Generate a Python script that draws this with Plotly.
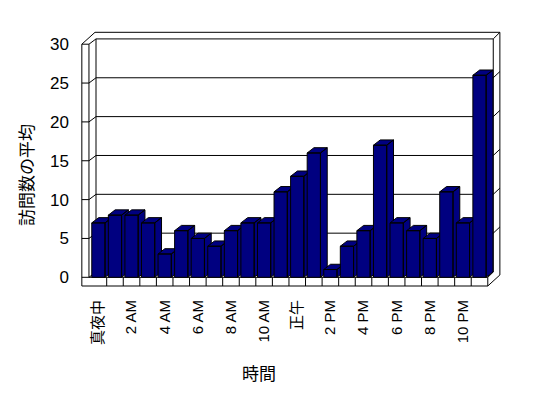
import plotly.graph_objects as go

# ---- data ----
hours = list(range(24))
visits = [7, 8, 8, 7, 3, 6, 5, 4, 6, 7, 7, 11, 13, 16, 1, 4, 6, 17, 7, 6, 5, 11, 7, 26]
x_tick_vals = [0, 2, 4, 6, 8, 10, 12, 14, 16, 18, 20, 22]
x_tick_text = ["真夜中", "2 AM", "4 AM", "6 AM", "8 AM", "10 AM", "正午",
               "2 PM", "4 PM", "6 PM", "8 PM", "10 PM"]
y_tick_vals = [0, 5, 10, 15, 20, 25, 30]
x_title = "時間"
y_title = "訪問数の平均"

# ---- style / geometry (category and value units) ----
NAVY = "#000080"
FONT = "Liberation Sans, Noto Sans CJK JP, sans-serif"
HALF = 0.40      # half width of a bar front face
DX = 0.41        # depth offset, x
DY = 0.68        # depth offset, y
YMAX = y_tick_vals[-1]
n = len(hours)

LEFT_OUT = -1.0
LEFT_FRONT = -0.57
BACK_LEFT = -0.145
BACK_RIGHT = n - 0.17
OUT_RIGHT = n + 0.23
FLOOR_RIGHT = n - 0.5
FLOOR_BOT = -1.12
OUT_TOP = YMAX + 1.53

fig = go.Figure()

def seg_trace(xs, ys):
    fig.add_trace(go.Scatter(x=xs, y=ys, mode="lines",
                             line=dict(color="black", width=1),
                             hoverinfo="skip", showlegend=False))

# frame lines
xs, ys = [], []
def seg(x0, y0, x1, y1):
    xs.extend([x0, x1, None]); ys.extend([y0, y1, None])

seg(LEFT_OUT, FLOOR_BOT, LEFT_OUT, YMAX)
seg(LEFT_OUT, YMAX, LEFT_FRONT, YMAX)
seg(LEFT_FRONT, 0, LEFT_FRONT, YMAX)
seg(LEFT_OUT, YMAX, BACK_LEFT - 0.06, OUT_TOP)
seg(BACK_LEFT - 0.06, OUT_TOP, OUT_RIGHT, OUT_TOP)
seg(LEFT_FRONT, YMAX, BACK_LEFT, YMAX + DY)
seg(BACK_LEFT, YMAX + DY, BACK_RIGHT, YMAX + DY)
seg(BACK_LEFT, DY, BACK_LEFT, YMAX + DY)
seg(BACK_RIGHT, DY, BACK_RIGHT, YMAX + DY)
seg(OUT_RIGHT, 0.3, OUT_RIGHT, OUT_TOP)
seg(BACK_RIGHT, YMAX + DY, OUT_RIGHT, OUT_TOP)
seg(LEFT_FRONT, 0, FLOOR_RIGHT, 0)
seg(LEFT_OUT, FLOOR_BOT, FLOOR_RIGHT, FLOOR_BOT)
seg(FLOOR_RIGHT, 0, FLOOR_RIGHT, FLOOR_BOT)
seg(FLOOR_RIGHT, 0, BACK_RIGHT, DY)
seg(FLOOR_RIGHT, FLOOR_BOT, OUT_RIGHT, 0.3)
for v in y_tick_vals[:-1]:
    seg(LEFT_OUT, v, LEFT_FRONT, v)
    seg(LEFT_FRONT, v, BACK_LEFT, v + DY)
    seg(BACK_LEFT, v + DY, BACK_RIGHT, v + DY)
    if v > 0:
        seg(BACK_RIGHT, v + DY, OUT_RIGHT, v + DY + 0.8)
for h in hours[:-1]:
    seg(h + 0.5, 0, h + 0.5, FLOOR_BOT)
seg_trace(xs, ys)

# bars (front, top, side faces) drawn left to right
for h, v in zip(hours, visits):
    l, r = h - HALF, h + HALF
    bx = [l, r, r, l, l, None,
          l, r, r + DX, l + DX, l, None,
          r, r + DX, r + DX, r, r]
    by = [0, 0, v, v, 0, None,
          v, v, v + DY, v + DY, v, None,
          0, DY, v + DY, v, 0]
    fig.add_trace(go.Scatter(x=bx, y=by, mode="lines", fill="toself",
                             fillcolor=NAVY, line=dict(color="black", width=1),
                             hoverinfo="skip", showlegend=False))

# axis mapping: px -> data
CX0, CXS = 98.4, 16.57      # category 0 centre px, px per category
VY0, VYS = 277.3, 7.77      # value 0 px, px per unit
PL, PR, PT, PB = 78, 504, 30, 290
xr = [(PL - CX0) / CXS, (PR - CX0) / CXS]
yr = [(VY0 - PB) / VYS, (VY0 - PT) / VYS]

fig.update_layout(
    width=548, height=398, autosize=False,
    margin=dict(l=PL, r=548 - PR, t=PT, b=398 - PB, pad=0),
    paper_bgcolor="white", plot_bgcolor="white",
    font=dict(family=FONT, color="black"),
    showlegend=False,
    xaxis=dict(range=xr, showgrid=False, zeroline=False, showline=False,
               ticks="", tickmode="array", tickvals=x_tick_vals,
               ticktext=x_tick_text, tickangle=-90,
               tickfont=dict(size=15, family=FONT), ticklabelstandoff=6,
               fixedrange=True),
    yaxis=dict(range=yr, showgrid=False, zeroline=False, showline=False,
               ticks="", tickmode="array", tickvals=y_tick_vals,
               tickfont=dict(size=17, family=FONT), ticklabelstandoff=8,
               fixedrange=True),
    annotations=[
        dict(text=x_title, xref="paper", yref="paper",
             x=(259 - PL) / (PR - PL), y=(PB - 374) / (PB - PT),
             showarrow=False, font=dict(size=17, family=FONT),
             xanchor="center", yanchor="middle"),
        dict(text=y_title, xref="paper", yref="paper",
             x=(27 - PL) / (PR - PL), y=(PB - 175) / (PB - PT),
             showarrow=False, textangle=-90, font=dict(size=17, family=FONT),
             xanchor="center", yanchor="middle"),
    ],
)

fig.write_html("out.html", config={"displayModeBar": False},
               post_script="document.body.style.margin='0';")
